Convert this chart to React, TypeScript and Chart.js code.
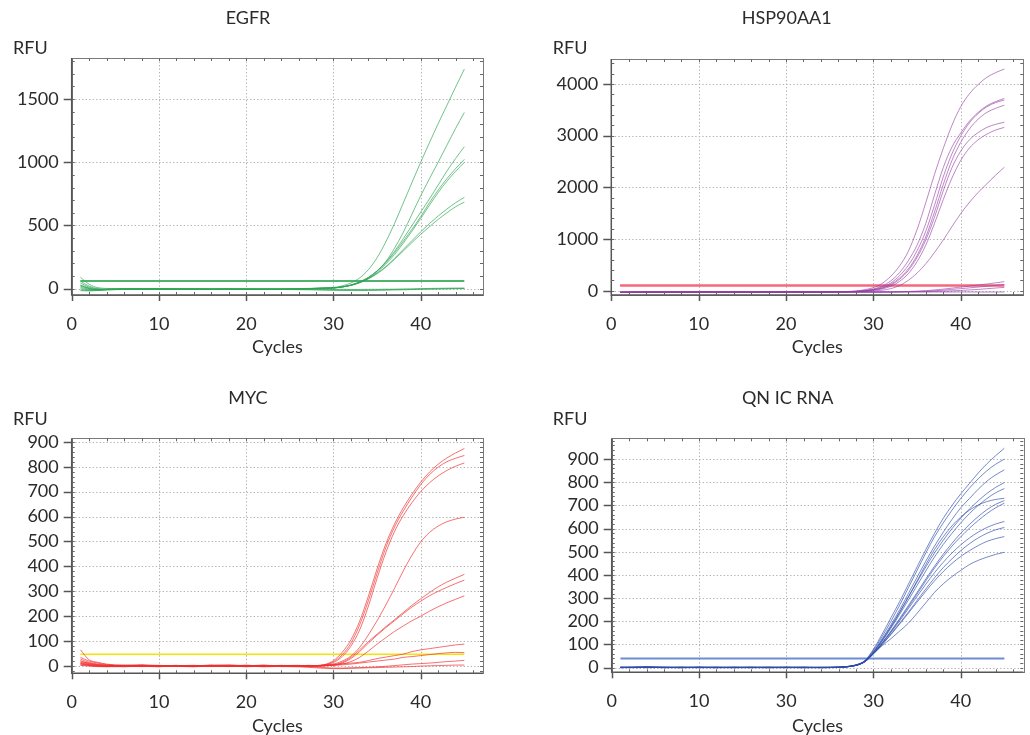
import React, { useEffect, useRef } from "react";
import { Chart, registerables } from "chart.js";

Chart.register(...registerables);

// ---------- data ----------
const CYCLES = [1, 2, 3, 4, 6, 8, 10, 12, 14, 16, 18, 20, 22, 24, 26, 27, 28, 29, 30, 31, 32, 33, 34, 35, 36, 37, 38, 39, 40, 41, 42, 43, 44, 45];

const X_TICKS = [0, 10, 20, 30, 40];
const X_TICK_LABELS = ["0", "10", "20", "30", "40"];
const X_TICK_LABELS_QN = ["0", "10", "30", "30", "40"];

const EGFR_Y_TICKS = [0, 500, 1000, 1500];
const HSP_Y_TICKS = [0, 1000, 2000, 3000, 4000];
const MYC_Y_TICKS = [0, 100, 200, 300, 400, 500, 600, 700, 800, 900];
const QN_Y_TICKS = [0, 100, 200, 300, 400, 500, 600, 700, 800, 900];

// EGFR
const EGFR_E1 = [90, 35, 8, 2, 0, -2, -1, -3, -2, -4, -3, -4, -3, -2, 0, 2, 4, 7, 10, 22, 45, 85, 150, 245, 370, 516, 677, 840, 1000, 1155, 1305, 1450, 1595, 1737];
const EGFR_E2 = [60, 20, 0, -5, -3, -4, -2, -5, -4, -3, -5, -4, -6, -4, -2, 0, 2, 4, 6, 14, 28, 50, 85, 140, 215, 320, 445, 590, 735, 870, 1000, 1135, 1268, 1394];
const EGFR_E3 = [45, 12, -3, -6, -2, -5, -3, -2, -6, -5, -3, -6, -5, -3, -1, 1, 2, 4, 6, 14, 28, 52, 88, 140, 210, 295, 395, 500, 605, 710, 820, 930, 1030, 1123];
const EGFR_E4 = [30, 5, -6, -4, -3, -1, -4, -3, -2, -6, -4, -3, -4, -5, -2, 0, 3, 4, 6, 15, 30, 55, 90, 140, 205, 285, 375, 470, 570, 680, 780, 870, 950, 1023];
const EGFR_E5 = [20, 0, -8, -5, -2, -3, -5, -4, -3, -2, -5, -4, -3, -6, -3, -1, 1, 3, 6, 14, 27, 50, 82, 130, 195, 270, 360, 455, 555, 660, 760, 850, 928, 999];
const EGFR_E6 = [10, -5, -10, -6, -4, -2, -3, -5, -4, -3, -2, -5, -4, -3, -2, 0, 2, 4, 6, 14, 27, 48, 80, 122, 175, 240, 310, 380, 450, 515, 575, 630, 680, 722];
const EGFR_E7 = [0, -10, -12, -8, -5, -4, -2, -3, -5, -4, -3, -3, -5, -4, -3, -1, 1, 3, 6, 13, 26, 46, 77, 118, 170, 232, 298, 365, 430, 490, 548, 600, 648, 685];
const EGFR_N1 = [25, 2, -8, -6, -4, -3, -2, -4, -3, -5, -3, -4, -5, -6, -8, -9, -10, -12, -13, -14, -15, -15, -14, -13, -12, -10, -9, -7, -5, -3, -2, 0, 1, 2];
const EGFR_N2 = [-10, -15, -12, -8, -5, -3, -4, -2, -3, -5, -4, -2, -3, -4, -5, -6, -7, -8, -10, -11, -12, -12, -11, -10, -8, -6, -5, -3, 0, 2, 3, 4, 5, 5];
const EGFR_N3 = [-15, -18, -14, -10, -6, -4, -3, -5, -2, -4, -3, -5, -4, -3, -2, -3, -4, -4, -5, -5, -6, -6, -5, -5, -4, -4, -3, -3, -2, -2, -1, -1, 0, 0];
const EGFR_THRESHOLD = 60;

// HSP90AA1
const HSP_H1 = [-30, -28, -27, -26, -25, -24, -25, -26, -25, -24, -25, -26, -24, -23, -20, -15, -5, 20, 60, 140, 280, 480, 760, 1180, 1700, 2250, 2750, 3200, 3560, 3810, 3990, 4130, 4220, 4290];
const HSP_H2 = [-30, -28, -27, -26, -25, -26, -25, -24, -25, -26, -25, -24, -25, -24, -22, -18, -10, 5, 35, 90, 190, 350, 580, 880, 1300, 1850, 2380, 2780, 3050, 3280, 3450, 3580, 3660, 3720];
const HSP_H3 = [-30, -29, -27, -26, -26, -25, -24, -25, -26, -25, -24, -25, -26, -25, -23, -20, -14, 0, 25, 70, 150, 290, 490, 770, 1150, 1650, 2200, 2650, 2990, 3250, 3430, 3560, 3640, 3690];
const HSP_H4 = [-31, -29, -28, -27, -26, -25, -25, -24, -25, -26, -25, -25, -24, -25, -24, -21, -16, -5, 18, 55, 125, 245, 420, 680, 1040, 1520, 2050, 2520, 2870, 3130, 3320, 3450, 3530, 3590];
const HSP_H5 = [-30, -29, -28, -26, -25, -25, -26, -25, -24, -25, -26, -25, -25, -24, -24, -22, -17, -5, 15, 48, 110, 220, 390, 640, 980, 1420, 1930, 2380, 2700, 2920, 3060, 3160, 3220, 3260];
const HSP_H6 = [-32, -30, -28, -27, -26, -25, -25, -26, -25, -24, -25, -26, -25, -25, -24, -23, -19, -10, 8, 35, 85, 180, 330, 560, 880, 1300, 1760, 2180, 2520, 2760, 2920, 3030, 3110, 3160];
const HSP_H7 = [-30, -29, -28, -27, -26, -25, -24, -25, -26, -25, -25, -24, -25, -26, -25, -24, -22, -15, -5, 10, 40, 100, 200, 340, 520, 740, 980, 1240, 1490, 1710, 1900, 2070, 2235, 2390];
const HSP_L1 = [-30, -29, -28, -27, -26, -25, -25, -25, -26, -25, -24, -25, -25, -26, -25, -25, -25, -25, -25, -24, -23, -20, -15, -8, 0, 15, 30, 50, 70, 90, 110, 130, 152, 175];
const HSP_L2 = [-31, -29, -28, -27, -26, -26, -25, -24, -25, -26, -25, -25, -24, -25, -26, -25, -25, -26, -25, -25, -24, -22, -18, -15, -10, 0, 10, 25, 40, 55, 70, 88, 105, 120];
const HSP_L3 = [-30, -28, -27, -26, -26, -25, -25, -26, -25, -24, -25, -26, -25, -25, -25, -26, -25, -25, -26, -25, -25, -24, -22, -20, -18, -15, -10, -3, 5, 15, 25, 38, 52, 65];
const HSP_L4 = [-30, -29, -28, -27, -26, -25, -25, -26, -25, -25, -24, -25, -26, -25, -25, -25, -26, -25, -25, -26, -25, -25, -24, -25, -25, -26, -25, -25, -24, -25, -25, -26, -25, -25];
const HSP_THRESHOLD = 100;

// MYC
const MYC_M1 = [65, 25, 15, 8, 3, 5, 2, -2, 1, 3, -1, 2, 0, 3, 1, 2, 2, 6, 22, 55, 105, 180, 280, 390, 490, 570, 635, 690, 738, 778, 810, 835, 855, 873];
const MYC_M2 = [35, 20, 12, 6, 2, 4, 0, 3, -1, 2, 5, 1, 4, -2, 0, 1, 2, 5, 18, 45, 92, 165, 262, 372, 475, 558, 622, 678, 728, 768, 798, 820, 834, 845];
const MYC_M3 = [28, 15, 8, 4, 1, 2, -2, 1, 3, 0, 2, -3, 1, 2, 3, 0, 2, 4, 14, 38, 80, 145, 240, 352, 455, 540, 604, 656, 700, 735, 763, 785, 802, 815];
const MYC_M4 = [22, 10, 6, 2, 4, 1, 3, -1, 0, 4, 2, 0, -2, 1, -1, 0, 1, 3, 8, 20, 40, 75, 125, 182, 245, 312, 382, 445, 498, 536, 562, 579, 590, 597];
const MYC_M5 = [18, 12, 5, 3, 0, 2, 1, 0, 2, -2, 3, 1, 2, 0, 2, 1, 0, 2, 5, 15, 35, 65, 98, 128, 158, 186, 215, 244, 270, 295, 318, 337, 353, 368];
const MYC_M6 = [15, 8, 3, 1, -1, 3, 0, 2, -1, 1, 0, 4, -1, 2, 0, -2, 0, 2, 4, 12, 30, 58, 92, 124, 154, 182, 210, 237, 260, 282, 300, 316, 331, 345];
const MYC_M7 = [12, 6, 2, 0, 2, -1, 2, 1, 0, 3, -1, 2, 1, -1, 1, 0, -1, 1, 3, 8, 18, 35, 60, 88, 114, 139, 161, 182, 200, 220, 238, 254, 268, 282];
const MYC_M8 = [10, 5, 0, -2, 1, 0, -3, 2, 1, -1, 2, 0, 3, 1, -2, 3, 2, 4, 6, 9, 12, 15, 22, 30, 36, 42, 48, 58, 65, 70, 75, 80, 85, 88];
const MYC_M9 = [8, 3, -1, 1, 0, -2, 1, 0, -2, 2, 1, -1, 0, 2, 1, -1, 0, 1, 3, 5, 8, 12, 16, 20, 24, 28, 35, 38, 42, 46, 50, 53, 55, 54];
const MYC_M10 = [5, 2, 0, -1, -3, 0, -2, 1, 0, -1, -2, 1, -3, -1, 0, -2, -4, -6, -8, -8, -7, -6, -5, -3, -1, 2, 5, 8, 10, 12, 15, 18, 20, 23];
const MYC_M11 = [3, 0, -2, -3, -1, -2, 0, -1, -3, 0, -1, -2, 0, -2, -3, -5, -7, -9, -10, -10, -9, -8, -7, -6, -5, -4, -3, -2, 0, 1, 2, 3, 4, 4];
const MYC_THRESHOLD = 47;

// QN IC RNA
const QN_Q1 = [2, 1, 3, 4, 1, 2, 0, 1, 2, 1, 0, 1, 0, 1, 2, 5, 12, 30, 80, 145, 215, 285, 360, 435, 510, 580, 645, 700, 750, 795, 840, 880, 915, 947];
const QN_Q2 = [1, 2, 2, 3, 0, 1, 1, 0, 1, 2, 1, 0, 1, 0, 2, 5, 12, 30, 75, 135, 200, 270, 345, 420, 495, 565, 625, 680, 730, 775, 815, 850, 878, 900];
const QN_Q3 = [0, 1, 2, 2, 1, 0, 2, 1, 0, 1, 2, 1, 0, 1, 2, 5, 11, 28, 70, 125, 185, 250, 320, 390, 460, 525, 585, 640, 690, 730, 770, 805, 832, 854];
const QN_Q4 = [1, 0, 1, 3, 2, 1, 0, 2, 1, 0, 1, 2, 1, 0, 2, 4, 11, 28, 68, 120, 178, 240, 305, 370, 435, 495, 550, 600, 645, 685, 720, 752, 778, 799];
const QN_Q5 = [2, 1, 0, 2, 1, 2, 1, 0, 2, 1, 0, 1, 2, 1, 1, 4, 10, 27, 66, 115, 170, 230, 292, 355, 418, 478, 532, 580, 625, 665, 700, 730, 755, 773];
const QN_Q6 = [0, 2, 1, 1, 0, 1, 2, 1, 0, 2, 1, 0, 1, 2, 2, 5, 11, 28, 66, 118, 175, 238, 305, 375, 445, 510, 565, 612, 650, 680, 702, 717, 726, 731];
const QN_Q7 = [1, 1, 2, 0, 1, 0, 1, 2, 1, 0, 2, 1, 0, 1, 1, 4, 10, 26, 62, 108, 158, 212, 268, 325, 383, 438, 490, 537, 580, 618, 652, 682, 705, 721];
const QN_Q8 = [2, 0, 1, 1, 2, 1, 0, 1, 2, 1, 0, 2, 1, 0, 1, 4, 10, 26, 62, 106, 155, 208, 262, 318, 375, 430, 480, 525, 565, 602, 635, 665, 690, 710];
const QN_Q9 = [0, 1, 0, 2, 1, 2, 1, 0, 1, 2, 1, 0, 2, 1, 2, 4, 10, 26, 62, 105, 152, 202, 255, 308, 360, 410, 455, 495, 530, 560, 585, 605, 620, 631];
const QN_Q10 = [1, 2, 1, 0, 2, 0, 1, 2, 0, 1, 2, 1, 0, 1, 1, 4, 10, 25, 60, 100, 145, 192, 240, 290, 340, 388, 432, 470, 505, 535, 560, 580, 595, 605];
const QN_Q11 = [2, 1, 1, 2, 0, 1, 2, 0, 1, 0, 1, 2, 1, 0, 2, 4, 10, 25, 60, 100, 143, 188, 235, 283, 330, 375, 415, 450, 480, 505, 527, 545, 557, 566];
const QN_Q12 = [0, 1, 2, 1, 1, 0, 2, 1, 0, 1, 0, 1, 2, 1, 1, 4, 10, 25, 60, 95, 125, 158, 192, 235, 280, 325, 362, 393, 420, 445, 463, 477, 489, 498];
const QN_THRESHOLD = 40;

// ---------- layout / style ----------
const FONT = "Lato, 'Noto Sans', sans-serif";
const TEXT = "#2b2b2b";

type Area = { l: number; r: number; t: number; b: number };
type PanelDef = {
  title: string;
  left: number; top: number; w: number; h: number;
  area: Area;
  yMin: number; yMax: number; yTicks: number[]; yMinor: number; xMax: number;
  titleX: number; titleY: number; rfuX: number; rfuY: number; cyclesY: number;
  curves: number[][];
  color: string;
  threshold: number; thColor: string; thWidth: number;
  xLabels: string[];
};

const PANELS: PanelDef[] = [
  {
    title: "EGFR", left: 0, top: 0, w: 515, h: 367,
    area: { l: 71.7, r: 483, t: 58, b: 295 },
    yMin: -50, yMax: 1825, yTicks: EGFR_Y_TICKS, yMinor: 100, xMax: 47.14,
    titleX: 248, titleY: 18, rfuX: 13, rfuY: 48, cyclesY: 347,
    curves: [EGFR_N1, EGFR_N2, EGFR_N3, EGFR_E1, EGFR_E2, EGFR_E3, EGFR_E4, EGFR_E5, EGFR_E6, EGFR_E7],
    color: "rgba(45,165,85,0.68)",
    threshold: EGFR_THRESHOLD, thColor: "rgba(60,170,95,0.9)", thWidth: 2,
    xLabels: X_TICK_LABELS,
  },
  {
    title: "HSP90AA1", left: 515, top: 0, w: 515, h: 367,
    area: { l: 96.3, r: 508.3, t: 59, b: 295 },
    yMin: -83, yMax: 4484, yTicks: HSP_Y_TICKS, yMinor: 200, xMax: 47.17,
    titleX: 271.7, titleY: 18, rfuX: 37.7, rfuY: 48, cyclesY: 347,
    curves: [HSP_L4, HSP_L3, HSP_L2, HSP_L1, HSP_H1, HSP_H2, HSP_H3, HSP_H4, HSP_H5, HSP_H6, HSP_H7],
    color: "rgba(150,60,165,0.62)",
    threshold: HSP_THRESHOLD, thColor: "rgba(245,95,115,0.95)", thWidth: 2.5,
    xLabels: X_TICK_LABELS,
  },
  {
    title: "MYC", left: 0, top: 367, w: 515, h: 368,
    area: { l: 71.7, r: 483, t: 71.3, b: 306.3 },
    yMin: -29, yMax: 914, yTicks: MYC_Y_TICKS, yMinor: 20, xMax: 47.14,
    titleX: 248, titleY: 31.3, rfuX: 13, rfuY: 52.3, cyclesY: 359,
    curves: [MYC_M11, MYC_M10, MYC_M9, MYC_M8, MYC_M7, MYC_M6, MYC_M5, MYC_M4, MYC_M3, MYC_M2, MYC_M1],
    color: "rgba(240,45,45,0.68)",
    threshold: MYC_THRESHOLD, thColor: "rgba(245,228,0,1)", thWidth: 1.5,
    xLabels: X_TICK_LABELS,
  },
  {
    title: "QN IC RNA", left: 515, top: 367, w: 515, h: 368,
    area: { l: 96.7, r: 508.3, t: 71.3, b: 305.3 },
    yMin: -20, yMax: 990, yTicks: QN_Y_TICKS, yMinor: 20, xMax: 47.17,
    titleX: 272.7, titleY: 31.3, rfuX: 37.7, rfuY: 52.3, cyclesY: 359,
    curves: [QN_Q12, QN_Q11, QN_Q10, QN_Q9, QN_Q8, QN_Q7, QN_Q6, QN_Q5, QN_Q4, QN_Q3, QN_Q2, QN_Q1],
    color: "rgba(45,75,170,0.65)",
    threshold: QN_THRESHOLD, thColor: "rgba(100,135,210,0.95)", thWidth: 2,
    xLabels: X_TICK_LABELS_QN,
  },
];

// ---------- frame plugin (grid, border, minor ticks, titles) ----------
const framePlugin = {
  id: "qpcrFrame",
  beforeDatasetsDraw(chart: any, _args: any, opts: any) {
    const { ctx, chartArea: a, scales } = chart;
    const x = scales.x, y = scales.y;
    ctx.save();
    ctx.strokeStyle = "#b0b0b0";
    ctx.lineWidth = 1;
    ctx.setLineDash([1.3, 2.2]);
    for (const t of x.ticks) {
      if (t.value <= x.min) continue;
      const px = Math.round(x.getPixelForValue(t.value)) + 0.5;
      ctx.beginPath(); ctx.moveTo(px, a.top); ctx.lineTo(px, a.bottom); ctx.stroke();
    }
    for (const t of y.ticks) {
      const py = Math.round(y.getPixelForValue(t.value)) + 0.5;
      ctx.beginPath(); ctx.moveTo(a.left, py); ctx.lineTo(a.right, py); ctx.stroke();
    }
    ctx.restore();
  },
  afterDatasetsDraw(chart: any, _args: any, opts: any) {
    const { ctx, chartArea: a, scales } = chart;
    const x = scales.x, y = scales.y;
    ctx.save();
    // frame
    ctx.strokeStyle = "#7a7a7a";
    ctx.lineWidth = 1;
    ctx.strokeRect(Math.round(a.left) + 0.5, Math.round(a.top) + 0.5, Math.round(a.right - a.left), Math.round(a.bottom - a.top));
    ctx.strokeStyle = "#555";
    ctx.lineWidth = 1.5;
    ctx.beginPath();
    ctx.moveTo(a.left, a.top); ctx.lineTo(a.left, a.bottom); ctx.lineTo(a.right, a.bottom);
    ctx.stroke();
    // minor ticks (inward)
    ctx.lineWidth = 1;
    ctx.strokeStyle = "#666";
    for (let v = opts.xMinor; v < x.max; v += opts.xMinor) {
      const px = Math.round(x.getPixelForValue(v)) + 0.5;
      ctx.beginPath();
      ctx.moveTo(px, a.bottom); ctx.lineTo(px, a.bottom - 3);
      ctx.moveTo(px, a.top); ctx.lineTo(px, a.top + 3);
      ctx.stroke();
    }
    for (let v = Math.ceil(y.min / opts.yMinor) * opts.yMinor; v <= y.max; v += opts.yMinor) {
      const py = Math.round(y.getPixelForValue(v)) + 0.5;
      ctx.beginPath();
      ctx.moveTo(a.left, py); ctx.lineTo(a.left + 3, py);
      ctx.moveTo(a.right, py); ctx.lineTo(a.right - 3, py);
      ctx.stroke();
    }
    // major ticks (outward)
    ctx.strokeStyle = "#555";
    ctx.lineWidth = 1.5;
    for (const t of x.ticks) {
      const px = Math.round(x.getPixelForValue(t.value)) + 0.5;
      ctx.beginPath(); ctx.moveTo(px, a.bottom); ctx.lineTo(px, a.bottom + 6); ctx.stroke();
    }
    for (const t of y.ticks) {
      const py = Math.round(y.getPixelForValue(t.value)) + 0.5;
      ctx.beginPath(); ctx.moveTo(a.left - 8, py); ctx.lineTo(a.left, py); ctx.stroke();
    }
    // texts
    ctx.fillStyle = TEXT;
    ctx.font = `18px ${FONT}`;
    ctx.textBaseline = "middle";
    ctx.textAlign = "center";
    ctx.fillText(opts.title, opts.titleX, opts.titleY);
    ctx.fillText("Cycles", (a.left + a.right) / 2, opts.cyclesY);
    ctx.textAlign = "left";
    ctx.fillText("RFU", opts.rfuX, opts.rfuY);
    ctx.restore();
  },
};

function buildConfig(p: PanelDef): any {
  const datasets: any[] = p.curves.map((vals) => ({
    data: CYCLES.map((c, i) => ({ x: c, y: vals[i] })),
    borderColor: p.color,
    borderWidth: 1,
    pointRadius: 0,
    fill: false,
    cubicInterpolationMode: "monotone",
  }));
  datasets.push({
    data: [
      { x: CYCLES[0], y: p.threshold },
      { x: CYCLES[CYCLES.length - 1], y: p.threshold },
    ],
    borderColor: p.thColor,
    borderWidth: p.thWidth,
    pointRadius: 0,
    fill: false,
  });
  const tickFont = { family: FONT, size: 18 };
  return {
    type: "line",
    data: { datasets },
    plugins: [framePlugin],
    options: {
      animation: false,
      responsive: false,
      maintainAspectRatio: false,
      devicePixelRatio: 1,
      events: [],
      layout: { padding: { left: 0, right: p.w - p.area.r, top: p.area.t, bottom: 0 } },
      plugins: {
        legend: { display: false },
        tooltip: { enabled: false },
        title: { display: false },
        qpcrFrame: {
          xMinor: 2, yMinor: p.yMinor,
          title: p.title, titleX: p.titleX, titleY: p.titleY,
          rfuX: p.rfuX, rfuY: p.rfuY, cyclesY: p.cyclesY,
        },
      },
      scales: {
        x: {
          type: "linear",
          min: 0,
          max: p.xMax,
          afterFit: (s: any) => { s.height = p.h - p.area.b; },
          afterBuildTicks: (s: any) => { s.ticks = X_TICKS.map((v) => ({ value: v })); },
          grid: { display: false, drawTicks: false },
          border: { display: false },
          ticks: {
            padding: 18,
            color: TEXT,
            font: tickFont,
            maxRotation: 0,
            autoSkip: false,
            callback: (v: number) => p.xLabels[X_TICKS.indexOf(v)] ?? "",
          },
        },
        y: {
          type: "linear",
          min: p.yMin,
          max: p.yMax,
          afterFit: (s: any) => { s.width = p.area.l; },
          afterBuildTicks: (s: any) => { s.ticks = p.yTicks.map((v) => ({ value: v })); },
          grid: { display: false, drawTicks: false },
          border: { display: false },
          ticks: {
            padding: 13,
            color: TEXT,
            font: tickFont,
            autoSkip: false,
            callback: (v: number) => String(v),
          },
        },
      },
    },
  };
}

function Panel({ p }: { p: PanelDef }) {
  const ref = useRef<HTMLCanvasElement>(null);
  useEffect(() => {
    const chart = new Chart(ref.current as HTMLCanvasElement, buildConfig(p));
    return () => chart.destroy();
  }, [p]);
  return (
    <canvas
      ref={ref}
      width={p.w}
      height={p.h}
      style={{ position: "absolute", left: p.left, top: p.top, width: p.w, height: p.h }}
    />
  );
}

export default function App() {
  return (
    <div style={{ position: "absolute", left: 0, top: 0, width: 1030, height: 735, background: "#fff", overflow: "hidden" }}>
      {PANELS.map((p) => (
        <Panel key={p.title} p={p} />
      ))}
    </div>
  );
}
